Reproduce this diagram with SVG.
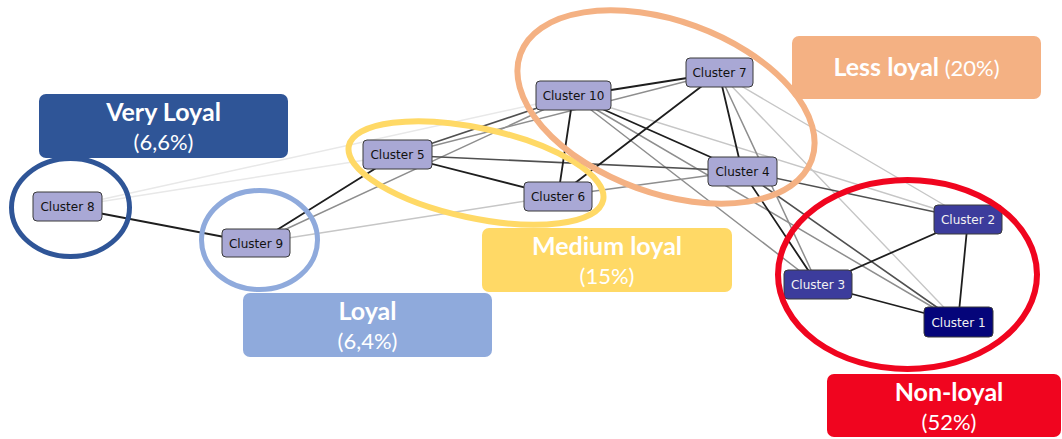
<svg xmlns="http://www.w3.org/2000/svg" width="1062" height="439" viewBox="0 0 1062 439">
<style>
.e{fill:none;stroke-linecap:round}
.dk{stroke:#1e1e1e;stroke-width:1.8}
.md{stroke:#505050;stroke-width:1.6}
.gy{stroke:#8e8e8e;stroke-width:1.5}
.lt{stroke:#c6c6c6;stroke-width:1.4}
.ft{stroke:#e8e8e8;stroke-width:1.5}
.node rect{stroke:#3a3a3a;stroke-width:1}
.n-l rect{fill:#a9a8d5}
.n-m rect{fill:#3c3c9c}
.n-d rect{fill:#05057a}
.node text{font-family:"DejaVu Sans",Verdana,sans-serif;font-size:12px;text-anchor:middle;dominant-baseline:central}
.n-l text{fill:#111}
.n-m text,.n-d text{fill:#f2f2f2}
.ring{fill:none}
.lbl text{font-family:Lato,"Liberation Sans",sans-serif;fill:#fff;text-anchor:middle}
.t1{font-weight:bold;font-size:25px}
.t2{font-weight:normal;font-size:22px}
</style>
<rect width="1062" height="439" fill="#fff"/>
<g id="connectors">
<line class="e ft" x1="67" y1="207" x2="573" y2="96"/>
<line class="e ft" x1="67" y1="207" x2="397" y2="155"/>
<line class="e lt" x1="256" y1="243" x2="558" y2="196"/>
<line class="e lt" x1="573" y1="96" x2="968" y2="219"/>
<line class="e lt" x1="719" y1="73" x2="968" y2="219"/>
<line class="e lt" x1="719" y1="73" x2="958" y2="322"/>
<line class="e gy" x1="256" y1="243" x2="573" y2="96"/>
<line class="e gy" x1="397" y1="155" x2="719" y2="73"/>
<line class="e gy" x1="558" y1="196" x2="742" y2="171"/>
<line class="e gy" x1="573" y1="96" x2="818" y2="285"/>
<line class="e gy" x1="573" y1="96" x2="958" y2="322"/>
<line class="e gy" x1="719" y1="73" x2="818" y2="285"/>
<line class="e md" x1="397" y1="155" x2="573" y2="96"/>
<line class="e md" x1="397" y1="155" x2="742" y2="171"/>
<line class="e md" x1="742" y1="171" x2="968" y2="219"/>
<line class="e md" x1="742" y1="171" x2="958" y2="322"/>
<line class="e dk" x1="67" y1="207" x2="256" y2="243"/>
<line class="e dk" x1="256" y1="243" x2="397" y2="155"/>
<line class="e dk" x1="397" y1="155" x2="558" y2="196"/>
<line class="e dk" x1="558" y1="196" x2="573" y2="96"/>
<line class="e dk" x1="558" y1="196" x2="719" y2="73"/>
<line class="e dk" x1="573" y1="96" x2="719" y2="73"/>
<line class="e dk" x1="573" y1="96" x2="742" y2="171"/>
<line class="e dk" x1="719" y1="73" x2="742" y2="171"/>
<line class="e dk" x1="742" y1="171" x2="818" y2="285"/>
<line class="e dk" x1="818" y1="285" x2="968" y2="219"/>
<line class="e dk" x1="818" y1="285" x2="958" y2="322"/>
<line class="e dk" x1="968" y1="219" x2="958" y2="322"/>
</g>
<g id="cluster8" class="node n-l"><rect x="33" y="192" width="69" height="29" rx="4"/><text x="67.5" y="207">Cluster 8</text></g>
<g id="cluster9" class="node n-l"><rect x="222" y="229" width="68" height="28" rx="4"/><text x="256" y="243.5">Cluster 9</text></g>
<g id="cluster5" class="node n-l"><rect x="363" y="140" width="69" height="29" rx="4"/><text x="397.5" y="155">Cluster 5</text></g>
<g id="cluster6" class="node n-l"><rect x="524" y="182" width="68" height="29" rx="4"/><text x="558" y="197">Cluster 6</text></g>
<g id="cluster10" class="node n-l"><rect x="536" y="81" width="75" height="29" rx="4"/><text x="573.5" y="96">Cluster 10</text></g>
<g id="cluster7" class="node n-l"><rect x="686" y="58" width="67" height="29" rx="4"/><text x="719.5" y="73">Cluster 7</text></g>
<g id="cluster4" class="node n-l"><rect x="708" y="157" width="69" height="29" rx="4"/><text x="742.5" y="172">Cluster 4</text></g>
<g id="cluster2" class="node n-m"><rect x="934" y="205" width="68" height="29" rx="4"/><text x="968" y="220">Cluster 2</text></g>
<g id="cluster3" class="node n-m"><rect x="784" y="270" width="68" height="29" rx="4"/><text x="818" y="285">Cluster 3</text></g>
<g id="cluster1" class="node n-d"><rect x="924" y="307" width="69" height="30" rx="4"/><text x="958.5" y="322.5">Cluster 1</text></g>
<g id="groups">
<ellipse class="ring" cx="70.5" cy="207.5" rx="59" ry="49" stroke="#2f5597" stroke-width="5"/>
<ellipse class="ring" cx="259.5" cy="240" rx="58" ry="49.5" stroke="#8faadc" stroke-width="5"/>
<ellipse class="ring" cx="476" cy="173" rx="130" ry="45" transform="rotate(12 476 173)" stroke="#ffd966" stroke-width="6"/>
<ellipse class="ring" cx="666" cy="107" rx="155" ry="86" transform="rotate(20 666 107)" stroke="#f4b183" stroke-width="6"/>
<ellipse class="ring" cx="907.5" cy="274.5" rx="129.5" ry="94.5" stroke="#f0051f" stroke-width="6"/>
</g>
<g id="label-very-loyal" class="lbl"><rect x="39" y="94" width="249" height="64" rx="7" fill="#2f5597"/><text x="163.5" y="121" class="t1">Very Loyal</text><text x="163.5" y="150" class="t2">(6,6%)</text></g>
<g id="label-loyal" class="lbl"><rect x="243" y="293" width="249" height="64" rx="7" fill="#8faadc"/><text x="367.5" y="320" class="t1">Loyal</text><text x="367.5" y="349" class="t2">(6,4%)</text></g>
<g id="label-medium" class="lbl"><rect x="482" y="228" width="250" height="64" rx="7" fill="#ffd966"/><text x="607" y="255" class="t1">Medium loyal</text><text x="607" y="284" class="t2">(15%)</text></g>
<g id="label-less" class="lbl"><rect x="792" y="36" width="249" height="63" rx="7" fill="#f4b183"/><text x="916.5" y="76"><tspan class="t1">Less loyal</tspan><tspan class="t2"> (20%)</tspan></text></g>
<g id="label-non" class="lbl"><rect x="827" y="374" width="234" height="63" rx="7" fill="#f0051f"/><text x="949" y="401" class="t1">Non-loyal</text><text x="949" y="430" class="t2">(52%)</text></g>
</svg>
